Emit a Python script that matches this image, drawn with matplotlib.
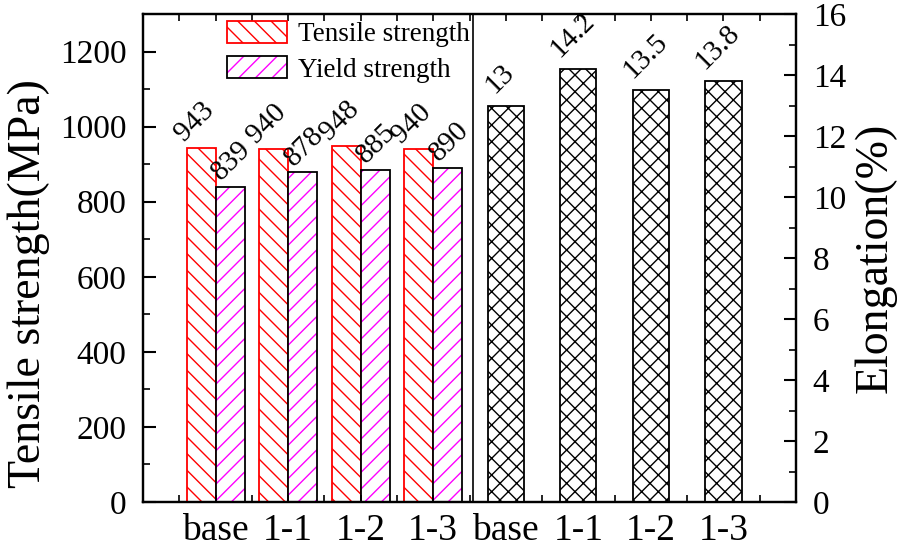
import matplotlib
matplotlib.use("Agg")
import matplotlib.pyplot as plt
from matplotlib.patches import Patch
from matplotlib.ticker import MultipleLocator
import numpy as np

plt.rcParams['font.family'] = ['Liberation Serif', 'DejaVu Serif']
plt.rcParams['hatch.linewidth'] = 1.0

samples = ["base", "1-1", "1-2", "1-3"]
tensile = [943, 940, 948, 940]
yield_s = [839, 878, 885, 890]
elong = [13, 14.2, 13.5, 13.8]
elong_labels = ["13", "14.2", "13.5", "13.8"]

fig = plt.figure(figsize=(8.98, 5.53), dpi=100)
ax = fig.add_axes([143/898, 51/553, 653/898, 488/553])
ax2 = ax.twinx()

pos1 = np.arange(1, 5)
pos2 = np.arange(5, 9)
w = 0.4

# tensile bars
ax.bar(pos1 - w/2, tensile, w, facecolor='white', edgecolor='red', hatch='\\\\', linewidth=1.3)
# yield bars: magenta hatch, black outline
ax.bar(pos1 + w/2, yield_s, w, facecolor='white', edgecolor='magenta', hatch='//', linewidth=0)
ax.bar(pos1 + w/2, yield_s, w, fill=False, edgecolor='black', linewidth=1.3)

for x, v in zip(pos1 - w/2, tensile):
    ax.annotate(str(v), (x, v), xytext=(-5, 1), textcoords='offset points',
                rotation=45, ha='center', va='bottom', fontsize=21)
for x, v in zip(pos1 + w/2, yield_s):
    ax.annotate(str(v), (x, v), xytext=(1, 1), textcoords='offset points',
                rotation=45, ha='center', va='bottom', fontsize=21)

# elongation bars
ax2.bar(pos2, elong, 0.5, facecolor='white', edgecolor='black', hatch='xx', linewidth=1.3)
for x, v, s in zip(pos2, elong, elong_labels):
    ax2.annotate(s, (x, v), xytext=(-4, 5), textcoords='offset points',
                 rotation=45, ha='center', va='bottom', fontsize=21)

ax.axvline(4.55, color='black', linewidth=1.2)

ax.set_xlim(0, 9)
ax.set_ylim(0, 1300)
ax2.set_ylim(0, 16)

ax.set_xticks(list(pos1) + list(pos2))
ax.set_xticklabels(samples + samples, fontsize=27)
ax.xaxis.set_minor_locator(MultipleLocator(0.5))
ax.yaxis.set_major_locator(MultipleLocator(200))
ax.yaxis.set_minor_locator(MultipleLocator(100))
ax2.yaxis.set_major_locator(MultipleLocator(2))
ax2.yaxis.set_minor_locator(MultipleLocator(1))

ax.tick_params(axis='y', which='major', direction='in', length=9, width=1.5, labelsize=24, pad=12)
ax.tick_params(axis='y', which='minor', direction='in', length=5, width=1.2)
ax.tick_params(axis='x', which='both', direction='in', length=5, width=1.2, top=True, labelsize=27, pad=8)
ax2.tick_params(axis='y', which='major', direction='in', length=9, width=1.5, labelsize=24, pad=12)
ax2.tick_params(axis='y', which='minor', direction='in', length=5, width=1.2)

for a in (ax, ax2):
    for sp in a.spines.values():
        sp.set_linewidth(1.6)

ax.set_ylabel("Tensile strength(MPa)", fontsize=33)
ax.yaxis.set_label_coords(-0.142, 0.447)
ax2.set_ylabel("Elongation(%)", fontsize=33, labelpad=6)

h1 = Patch(facecolor='white', edgecolor='red', hatch='\\\\', linewidth=1.3)
h2a = Patch(facecolor='white', edgecolor='magenta', hatch='//', linewidth=0)
h2b = Patch(fill=False, edgecolor='black', linewidth=1.3)
ax.legend([h1, (h2a, h2b)], ["Tensile strength", "Yield strength"],
          loc='upper left', bbox_to_anchor=(0.129, 0.985), frameon=False,
          fontsize=19.5, handlelength=2.2, handleheight=0.85, handletextpad=0.4,
          labelspacing=0.33, borderpad=0, borderaxespad=0)

fig.savefig("out.png", dpi=100)
